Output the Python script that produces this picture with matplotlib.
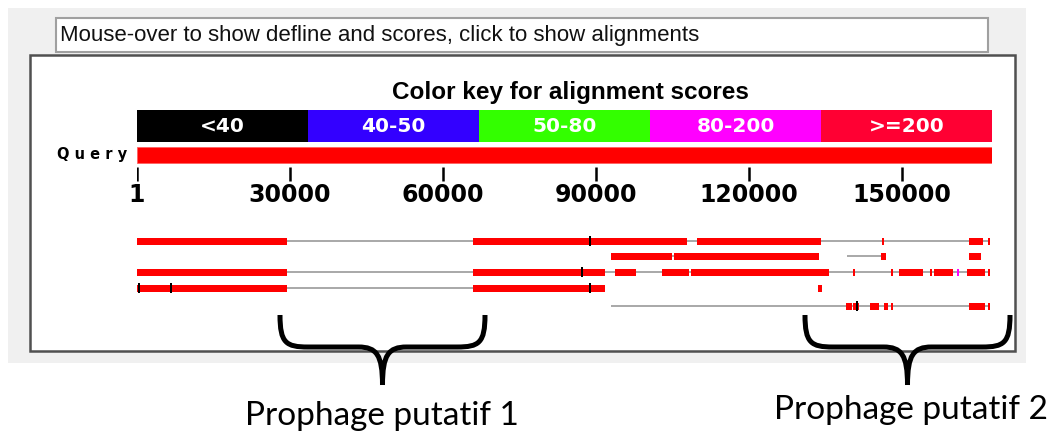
import matplotlib
matplotlib.use('Agg')
import matplotlib.pyplot as plt
from matplotlib.patches import Rectangle, PathPatch
from matplotlib.path import Path

# query length (bp) and ruler
QUERY_LEN = 167600
RULER_TICKS = [1, 30000, 60000, 90000, 120000, 150000]
RULER_LABELS = ['1', '30000', '60000', '90000', '120000', '150000']

# colour key
KEY_LABELS = ['<40', '40-50', '50-80', '80-200', '>=200']
KEY_COLORS = ['#000000', '#3300ff', '#33ff00', '#ff00ff', '#ff0033']
HIT_COLORS = ['#000000', '#3300ff', '#33ff00', '#ff00ff', '#ff0000']

# hits, one list per drawing row
# subject = (line start, line end, [(hsp start, hsp end, score class)])
ROW1 = [
    (1, 167200, [(1, 29400, 4), (65900, 107800, 4), (109800, 134100, 4),
                 (146000, 146400, 4), (163100, 165800, 4), (166800, 167200, 4),
                 (88600, 89000, 0)]),
]
ROW2 = [
    (92900, 133700, [(92900, 104900, 4), (105300, 133700, 4)]),
    (139200, 146800, [(145800, 146800, 4)]),
    (163100, 165400, [(163100, 165400, 4)]),
]
ROW3 = [
    (1, 167200, [(1, 29400, 4), (65900, 91700, 4), (93700, 97800, 4),
                 (102900, 108200, 4), (108600, 135600, 4), (140400, 140800, 4),
                 (147800, 148200, 4), (149400, 154100, 4), (155400, 155800, 4),
                 (156200, 159900, 4), (160800, 161200, 3), (162700, 166200, 4),
                 (166800, 167200, 4), (87000, 87400, 0)]),
]
ROW4 = [
    (1, 91700, [(1, 29400, 4), (65900, 91700, 4),
                (100, 500, 0), (6500, 6900, 0), (88600, 89000, 0)]),
    (133500, 134300, [(133500, 134300, 4)]),
]
ROW5 = [
    (92900, 167200, [(139000, 140100, 4), (140300, 141500, 4), (143700, 145400, 4),
                     (146400, 147200, 4), (147800, 148200, 4), (163100, 166200, 4),
                     (166800, 167200, 4), (140900, 141300, 0)]),
]
ROWS = [ROW1, ROW2, ROW3, ROW4, ROW5]
ROW_Y = [241, 256, 272, 288, 306]

LABEL1 = 'Prophage putatif 1'
LABEL2 = 'Prophage putatif 2'


def brace(ax, x0, x1, y_top, y_mid, y_tip):
    xc = (x0 + x1) / 2.0
    verts = [(x0, y_top), (x0, y_mid - 4), (x0 + 6, y_mid), (x0 + 28, y_mid),
             (xc - 24, y_mid), (xc - 6, y_mid), (xc, y_mid + 8), (xc, y_tip),
             (x1, y_top), (x1, y_mid - 4), (x1 - 6, y_mid), (x1 - 28, y_mid),
             (xc + 24, y_mid), (xc + 6, y_mid), (xc, y_mid + 8), (xc, y_tip)]
    codes = [Path.MOVETO, Path.CURVE4, Path.CURVE4, Path.CURVE4,
             Path.LINETO, Path.CURVE4, Path.CURVE4, Path.CURVE4] * 2
    ax.add_patch(PathPatch(Path(verts, codes), fc='none', ec='black',
                           lw=3.6, capstyle='butt', joinstyle='round'))


fig = plt.figure(figsize=(10.52, 4.32), dpi=100)

# background / frames in pixel coords
bg = fig.add_axes([0, 0, 1, 1])
bg.set_xlim(0, 1052)
bg.set_ylim(432, 0)
bg.axis('off')
bg.add_patch(Rectangle((8, 8), 1018, 355, fc='#f0f0f0', ec='none'))
bg.add_patch(Rectangle((56, 18), 932, 34, fc='white', ec='#a0a0a0', lw=1.5))
bg.add_patch(Rectangle((30, 55), 985, 296, fc='white', ec='#505050', lw=1.8))
bg.text(60, 36, 'Mouse-over to show defline and scores, click to show alignments',
        ha='left', va='center', fontsize=16, color='#111111',
        family=['Liberation Sans', 'DejaVu Sans'])
bg.text(570, 92, 'Color key for alignment scores', ha='center', va='center',
        fontsize=17.5, fontweight='bold', family=['Liberation Sans', 'DejaVu Sans'])
bg.text(92, 155, 'Q u e r y', ha='center', va='center', fontsize=10.5,
        fontweight='bold', family='DejaVu Sans')

# data axes: x in bp, y in pixels
ax = fig.add_axes([137 / 1052, 0, (992 - 137) / 1052, 1])
ax.set_xlim(1, QUERY_LEN)
ax.set_ylim(432, 0)
ax.patch.set_alpha(0)
ax.axis('off')

seg = QUERY_LEN / len(KEY_LABELS)
for i, (lab, col) in enumerate(zip(KEY_LABELS, KEY_COLORS)):
    ax.barh(126, seg, left=1 + i * seg, height=32, color=col, edgecolor='none')
    ax.text(1 + (i + 0.5) * seg, 126, lab, ha='center', va='center', color='white',
            fontsize=14.5, fontweight='bold', family='DejaVu Sans')

ax.barh(155, QUERY_LEN, left=1, height=16, color='#ff0000', edgecolor='#ff6060', lw=0.6)

ax.vlines(RULER_TICKS, 167, 181, color='black', lw=1.8)
for t, lab in zip(RULER_TICKS, RULER_LABELS):
    ax.text(t, 195, lab, ha='center', va='center', fontsize=17,
            fontweight='bold', family='DejaVu Sans')

for row, y in zip(ROWS, ROW_Y):
    for lo, hi, hsps in row:
        ax.hlines(y, lo, hi, color='#a8a8a8', lw=1.4, zorder=1)
        for s, e, c in hsps:
            h = 10 if c == 0 else 7
            ax.barh(y, e - s, left=s, height=h, color=HIT_COLORS[c],
                    edgecolor='none', zorder=3 if c == 0 else 2)

# braces and labels on top
top = fig.add_axes([0, 0, 1, 1])
top.set_xlim(0, 1052)
top.set_ylim(432, 0)
top.patch.set_alpha(0)
top.axis('off')
brace(top, 280, 485, 315, 347, 385)
brace(top, 805, 1010, 315, 347, 385)
top.text(382, 425, LABEL1, ha='center', va='baseline', fontsize=24, family='Lato')
top.text(911, 419, LABEL2, ha='center', va='baseline', fontsize=24, family='Lato')

fig.savefig('out.png', dpi=100)
